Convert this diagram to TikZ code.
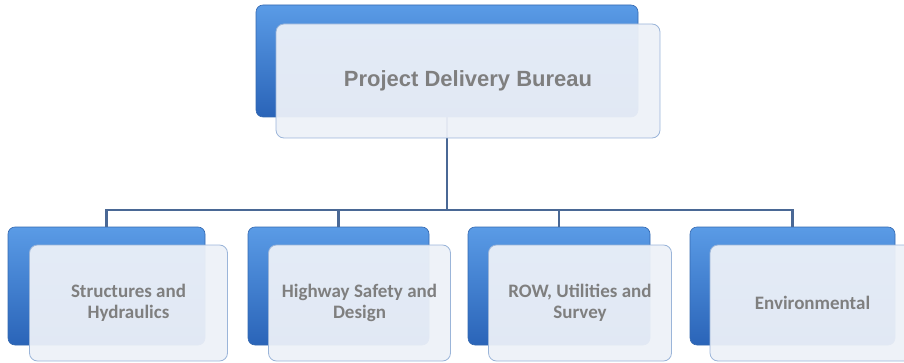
\documentclass[tikz,border=0pt]{standalone}
\usepackage{fontspec}
\setmainfont{Carlito}
\newfontfamily\headfont{Liberation Sans}
\usepackage{tikz}
\usetikzlibrary{positioning}

\definecolor{bluetop}{HTML}{5A9BE6}
\definecolor{bluebot}{HTML}{2A64B8}
\definecolor{blueedge}{HTML}{3468B0}
\definecolor{frontfill}{HTML}{EDF1F8}
\definecolor{frontedge}{HTML}{9BB5D9}
\definecolor{labelgray}{HTML}{7F7F7F}
\definecolor{connblue}{HTML}{4A6895}

\tikzset{
	backbox/.style={rectangle, rounded corners=7pt, draw=blueedge, line width=0.6pt, top color=bluetop, bottom color=bluebot, inner sep=0pt},
	frontbox/.style={rectangle, rounded corners=8pt, draw=frontedge, line width=0.8pt, fill=frontfill, fill opacity=0.94, text opacity=1, text=labelgray, align=center, inner sep=0pt, font=\bfseries\fontsize{19}{21}\selectfont},
	conn/.style={draw=connblue, line width=2.4pt}
}

\begin{document}
\begin{tikzpicture}[x=1pt,y=1pt]
				\useasboundingbox (0,0) rectangle (904,362);

				\node[backbox, minimum width=382pt, minimum height=112pt] (pdbback) at (447,301) {};
				\node[backbox, minimum width=197pt, minimum height=118pt] (shback) at (106.5,76) {};
				\node[backbox, minimum width=181pt, minimum height=118pt] (hsdback) at (338.5,76) {};
				\node[backbox, minimum width=182pt, minimum height=118pt] (rowback) at (559,76) {};
				\node[backbox, minimum width=205pt, minimum height=118pt] (envback) at (792.5,76) {};

				\coordinate (bus) at (0,152);
				\foreach \child in {shback,hsdback,rowback,envback}
					\draw[conn] (pdbback.south) |- (\child.north |- bus) -- (\child.north);

				\node[frontbox, minimum width=384pt, minimum height=114pt, font=\headfont\bfseries\fontsize{22}{26}\selectfont] (pdb) at ([shift={(21,-20)}]pdbback.center) {Project Delivery Bureau};
				\node[frontbox, minimum width=198pt, minimum height=116pt] (sh) at ([shift={(22,-17)}]shback.center) {Structures and\\Hydraulics};
				\node[frontbox, minimum width=182pt, minimum height=116pt] (hsd) at ([shift={(21,-17)}]hsdback.center) {Highway Safety and\\Design};
				\node[frontbox, minimum width=183pt, minimum height=116pt] (row) at ([shift={(21,-17)}]rowback.center) {ROW, Utilities and\\Survey};
				\node[frontbox, minimum width=205pt, minimum height=116pt] (env) at ([shift={(20,-17)}]envback.center) {Environmental};
			\end{tikzpicture}
\end{document}
